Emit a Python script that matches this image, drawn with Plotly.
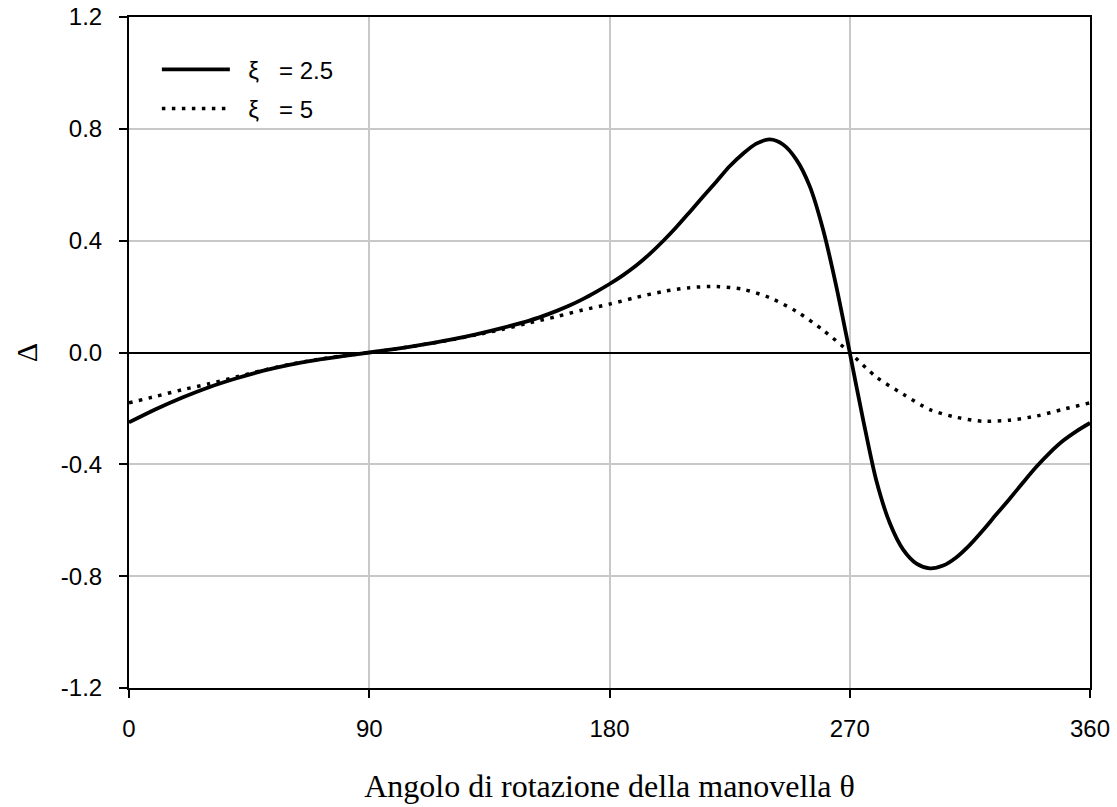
import plotly.graph_objects as go

theta = [0, 10, 20, 30, 40, 50, 60, 70, 80, 90, 100, 110, 120, 130, 140, 150, 155, 160, 165, 170,
         175, 180, 185, 190, 195, 200, 205, 210, 215, 220, 225, 230, 235, 240, 245, 250,
         255, 260, 265, 270, 275, 280, 285, 290, 295, 300, 305, 310, 315, 320, 325, 330,
         335, 340, 345, 350, 355, 360]

delta_xi25 = [-0.250, -0.203, -0.161, -0.124, -0.093, -0.066, -0.044, -0.027, -0.013, 0.000,
              0.013, 0.028, 0.045, 0.065, 0.088, 0.114, 0.130, 0.148, 0.168, 0.191,
              0.217, 0.245, 0.276, 0.311, 0.352, 0.398, 0.448, 0.502, 0.557, 0.611, 0.666,
              0.711, 0.747, 0.762, 0.744, 0.690, 0.595, 0.440, 0.235, 0.000, -0.240, -0.460,
              -0.610, -0.705, -0.755, -0.772, -0.762, -0.732, -0.688, -0.635, -0.578, -0.522,
              -0.464, -0.408, -0.358, -0.315, -0.281, -0.252]

theta5 = [0, 10, 20, 30, 40, 50, 60, 70, 80, 90, 100, 110, 120, 130, 140, 150, 160, 170,
          180, 190, 200, 210, 220, 230, 240, 250, 260, 270, 280, 290, 300, 310, 320, 330,
          340, 350, 360]
delta_xi5 = [-0.180, -0.157, -0.133, -0.112, -0.088, -0.064, -0.043, -0.026, -0.012, 0.000,
             0.013, 0.028, 0.044, 0.063, 0.083, 0.106, 0.128, 0.152,
             0.173, 0.197, 0.218, 0.232, 0.236, 0.226, 0.196, 0.147, 0.080, 0.000,
             -0.088, -0.149, -0.204, -0.232, -0.246, -0.242, -0.227, -0.203, -0.180]

x_ticks = [0, 90, 180, 270, 360]
y_ticks = [-1.2, -0.8, -0.4, 0.0, 0.4, 0.8, 1.2]
y_tick_labels = ["-1.2", "-0.8", "-0.4", "0.0", "0.4", "0.8", "1.2"]
series_names = ["\u00a0\u00a0\u03be\u00a0\u00a0 = 2.5", "\u00a0\u00a0\u03be\u00a0\u00a0 = 5"]

fig = go.Figure()
fig.add_trace(go.Scatter(x=theta, y=delta_xi25, mode="lines", name=series_names[0],
                         line=dict(color="black", width=3.8, shape="spline", smoothing=0.8),
                         legendgroup="a"))
fig.add_trace(go.Scatter(x=theta5, y=delta_xi5, mode="lines", name=series_names[1],
                         line=dict(color="black", width=3.5, dash="3.5px,6.5px", shape="spline", smoothing=0.8),
                         legendgroup="b"))

fig.update_layout(
    width=1117, height=807,
    margin=dict(l=129, r=27, t=17, b=119, autoexpand=False),
    paper_bgcolor="white", plot_bgcolor="white",
    font=dict(family="Liberation Sans, Arial", size=24, color="black"),
    showlegend=True,
    legend=dict(x=0.029, y=0.955, xanchor="left", yanchor="top",
                bgcolor="rgba(0,0,0,0)", font=dict(size=24, family="Liberation Sans, Arial"),
                tracegroupgap=5, itemwidth=68),
)
fig.update_xaxes(range=[0, 360], tickvals=x_ticks, ticktext=[str(v) for v in x_ticks],
                 automargin=False,
                 showgrid=True, gridcolor="#c8c8c8", gridwidth=1.5,
                 showline=True, linecolor="black", linewidth=2, mirror=True,
                 ticks="outside", ticklen=8, tickcolor="black", tickwidth=2,
                 ticklabelstandoff=10,
                 zeroline=False, tickfont=dict(size=24),
                 title=dict(text="Angolo di rotazione della manovella \u03b8",
                            font=dict(family="Liberation Serif, Times New Roman", size=32),
                            standoff=34))
fig.update_yaxes(range=[-1.2, 1.2], tickvals=y_ticks, ticktext=y_tick_labels,
                 automargin=False,
                 showgrid=True, gridcolor="#c8c8c8", gridwidth=1.5,
                 showline=True, linecolor="black", linewidth=2, mirror=True,
                 ticks="outside", ticklen=8, tickcolor="black", tickwidth=2,
                 ticklabelstandoff=12,
                 zeroline=True, zerolinecolor="black", zerolinewidth=1.8,
                 tickfont=dict(size=24),
                 title=dict(text="\u0394", font=dict(family="Liberation Serif, Times New Roman", size=30),
                            standoff=14))

fig.write_html("out.html")
